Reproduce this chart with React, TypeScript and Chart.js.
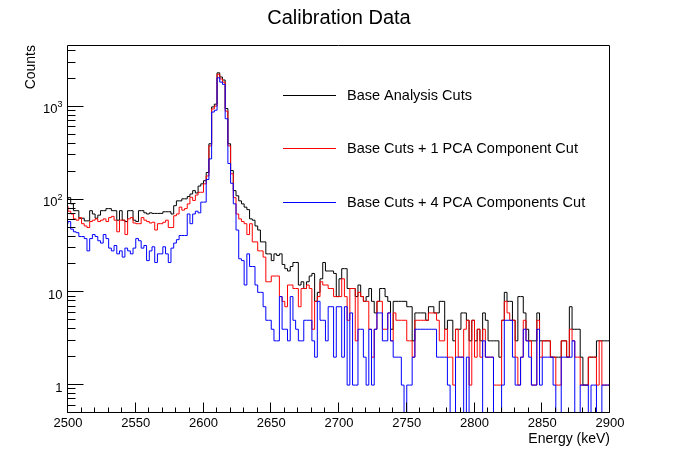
import React, { useEffect, useRef } from 'react';
import { Chart, Plugin, registerables } from 'chart.js';

Chart.register(...registerables);

// histogram binning (keV)
const binStart = 2500;
const binWidth = 2;

// counts per 2 keV bin, 2500 -> 2900 keV
const baseCuts = [
  100, 105, 90, 76, 76, 63, 63, 59, 59, 76,
  70, 63, 68, 76, 76, 80, 80, 76, 76, 60,
  76, 60, 58, 76, 76, 60, 58, 76, 76, 72,
  70, 72, 71, 71, 71, 71, 74, 74, 74, 70,
  86, 97, 97, 102, 102, 108, 115, 125, 118, 140,
  148, 160, 196, 400, 1000, 1070, 2330, 2100, 1950, 960,
  400, 206, 125, 110, 97, 90, 83, 78, 62, 60,
  52, 47, 35, 35, 26, 26, 22, 26, 25, 26,
  20, 18, 17, 19, 21, 21, 12, 13, 11, 13,
  15, 16, 8, 10, 14, 21, 17, 17, 17, 16,
  9, 14, 18, 18, 11, 11, 11, 9, 12, 9,
  8, 9, 11, 8, 6, 8, 11, 11, 9, 8,
  4, 8, 8, 8, 8, 8, 7, 7, 3, 6,
  6, 6, 6, 5, 7, 7, 6, 6, 8, 8,
  4, 5, 5, 3, 4, 4, 6, 6, 5, 3,
  5, 3, 4, 3, 6, 5, 3, 3, 3, 3,
  2, 5, 10, 8, 8, 5, 3, 9, 9, 6,
  4, 3, 3, 3, 6, 3, 3, 3, 3, 2,
  2, 2, 2, 3, 3, 2, 7, 4, 4, 4,
  2, 1, 1, 2, 2, 2, 3, 3, 3, 3,
];

const onePcaCut = [
  85, 75, 70, 62, 60, 64, 55, 52, 50, 58,
  60, 62, 58, 60, 62, 58, 64, 66, 60, 45,
  60, 60, 42, 62, 64, 56, 55, 55, 64, 60,
  58, 56, 57, 47, 55, 55, 57, 60, 50, 50,
  67, 70, 83, 77, 80, 90, 106, 98, 112, 120,
  120, 148, 180, 380, 950, 1020, 2250, 2000, 1850, 900,
  380, 190, 105, 70, 62, 58, 55, 42, 55, 35,
  35, 28, 28, 24, 13, 13, 15, 15, 15, 9,
  8, 7, 12, 12, 11, 11, 7, 11, 11, 12,
  11, 4, 8, 9, 13, 12, 12, 11, 11, 9,
  9, 9, 14, 9, 5, 11, 11, 3, 10, 9,
  8, 8, 4, 2, 4, 8, 8, 4, 4, 6,
  3, 6, 5, 5, 5, 5, 3, 3, 2, 5,
  5, 5, 5, 5, 6, 6, 6, 5, 3, 3,
  4, 2, 2, 1, 4, 2, 2, 4, 5, 1,
  5, 2, 4, 2, 4, 2, 2, 2, 1, 1,
  1, 5, 8, 6, 5, 5, 2, 1, 2, 5,
  3, 3, 1, 1, 5, 2, 3, 3, 3, 2,
  2, 1, 1, 3, 3, 2, 4, 3, 2, 2,
  1, 1, 1, 2, 2, 2, 1, 3, 1, 1,
];

const fourPcaCut = [
  55, 58, 48, 45, 44, 40, 40, 38, 28, 38,
  42, 40, 36, 34, 42, 38, 30, 28, 32, 26,
  28, 24, 30, 28, 26, 30, 38, 36, 30, 32,
  22, 28, 31, 21, 26, 26, 31, 26, 21, 30,
  34, 37, 41, 41, 41, 70, 55, 70, 75, 72,
  94, 94, 165, 275, 880, 920, 2060, 1850, 1750, 745,
  245, 150, 90, 47, 23, 22, 12, 26, 19, 19,
  12, 10, 10, 7, 5, 5, 4, 3, 3, 9,
  4, 4, 3, 9, 5, 4, 3, 3, 5, 5,
  5, 3, 2, 8, 5, 5, 3, 7, 7, 2,
  7, 7, 2, 7, 1, 6, 1, 1, 4, 4,
  2, 1, 4, 1, 4, 6, 6, 3, 3, 6,
  3, 2, 2, 2, 1, 0, 1, 1, 2, 4,
  4, 4, 4, 4, 4, 4, 4, 2, 2, 2,
  2, 1, 0, 0, 2, 2, 2, 0, 2, 0,
  0, 0, 0, 0, 3, 2, 2, 2, 0, 0,
  0, 1, 5, 5, 5, 2, 1, 1, 2, 4,
  3, 2, 1, 1, 4, 1, 2, 2, 2, 2,
  1, 0, 0, 2, 2, 2, 2, 3, 0, 0,
  1, 1, 1, 0, 1, 1, 0, 0, 1, 1,
];

const seriesLabels = [
  'Base Analysis Cuts',
  'Base Cuts + 1 PCA Component Cut',
  'Base Cuts + 4 PCA Components Cut',
];
const seriesColors = ['#000000', '#ff0000', '#0000ff'];

const xMin = 2500;
const xMax = 2900;
const xMajorTicks = [2500, 2550, 2600, 2650, 2700, 2750, 2800, 2850, 2900];
const xMinorStep = 10;

const yMin = 0.5;
const yMax = 4650;
// [mantissa, exponent] for the log axis labels
const yTickLabels: [number, string, string][] = [
  [1, '1', ''],
  [10, '10', ''],
  [100, '10', '2'],
  [1000, '10', '3'],
];

const FONT = '"Liberation Sans", Arial, Helvetica, sans-serif';

// empty bins are pushed below the axis, ROOT draws them to the bottom edge
function toSteps(values: number[]) {
  const pts = values.map((v, i) => ({ x: binStart + i * binWidth, y: v > 0 ? v : yMin / 10 }));
  const last = values[values.length - 1];
  pts.push({ x: binStart + values.length * binWidth, y: last > 0 ? last : yMin / 10 });
  return pts;
}

const rootFrame: Plugin = {
  id: 'rootFrame',
  afterDraw(chart) {
    const { ctx, chartArea: a } = chart;
    const xs = chart.scales.x;
    const ys = chart.scales.y;
    const L = Math.round(a.left) - 0.5;
    const R = Math.round(a.right) - 0.5;
    const T = Math.round(a.top) + 0.5;
    const B = Math.round(a.bottom) - 0.5;

    ctx.save();
    ctx.strokeStyle = '#000';
    ctx.lineWidth = 1;
    ctx.beginPath();
    ctx.rect(L, T, R - L, B - T);
    ctx.stroke();

    // x ticks, inside the frame
    ctx.beginPath();
    for (let v = xMin; v <= xMax; v += xMinorStep) {
      const px = Math.round(xs.getPixelForValue(v)) - 0.5;
      const len = xMajorTicks.includes(v) ? 10 : 5;
      ctx.moveTo(px, B);
      ctx.lineTo(px, B - len);
    }
    // y ticks, log decades
    for (let d = 0.1; d <= 1000; d *= 10) {
      for (let m = 1; m <= 9; m++) {
        const v = Math.round(d * m * 1000) / 1000;
        if (v < yMin || v > yMax) continue;
        const py = Math.round(ys.getPixelForValue(v)) - 0.5;
        const len = m === 1 ? 16 : 8;
        ctx.moveTo(L, py);
        ctx.lineTo(L + len, py);
      }
    }
    ctx.stroke();

    ctx.fillStyle = '#000';
    // x labels
    ctx.font = `13px ${FONT}`;
    ctx.textAlign = 'center';
    ctx.textBaseline = 'alphabetic';
    xMajorTicks.forEach((v) => {
      ctx.fillText(String(v), xs.getPixelForValue(v), B + 14.5);
    });

    // y labels with superscripts
    const rightEdge = L - 5;
    yTickLabels.forEach(([v, base, exp]) => {
      const py = ys.getPixelForValue(v) + 6.5;
      ctx.textAlign = 'left';
      ctx.font = `9px ${FONT}`;
      const ew = exp ? ctx.measureText(exp).width : 0;
      ctx.font = `13px ${FONT}`;
      const bw = ctx.measureText(base).width;
      const x0 = rightEdge - bw - ew;
      ctx.fillText(base, x0, py);
      if (exp) {
        ctx.font = `9px ${FONT}`;
        ctx.fillText(exp, x0 + bw, py - 6);
      }
    });

    // title and axis titles
    ctx.font = `20px ${FONT}`;
    ctx.textAlign = 'center';
    ctx.fillText('Calibration Data', (a.left + a.right) / 2, 24);

    ctx.font = `14px ${FONT}`;
    ctx.textAlign = 'right';
    ctx.fillText('Energy (keV)', a.right, 443);

    ctx.save();
    ctx.translate(35, a.top);
    ctx.rotate(-Math.PI / 2);
    ctx.textAlign = 'right';
    ctx.fillText('Counts', 0, 0);
    ctx.restore();

    // legend, no border
    const legendY = [95, 148, 202];
    ctx.font = `14.5px ${FONT}`;
    ctx.textAlign = 'left';
    ctx.textBaseline = 'middle';
    seriesLabels.forEach((label, i) => {
      const y = legendY[i] + 0.5;
      ctx.strokeStyle = seriesColors[i];
      ctx.beginPath();
      ctx.moveTo(283, y);
      ctx.lineTo(336, y);
      ctx.stroke();
      ctx.fillStyle = '#000';
      ctx.fillText(label, 347, legendY[i] + 1);
    });

    ctx.restore();
  },
};

export default function App() {
  const canvasRef = useRef<HTMLCanvasElement>(null);
  const chartRef = useRef<Chart | null>(null);

  useEffect(() => {
    if (!canvasRef.current) return;

    const series = [baseCuts, onePcaCut, fourPcaCut];
    chartRef.current = new Chart(canvasRef.current, {
      type: 'line',
      data: {
        datasets: series.map((values, i) => ({
          label: seriesLabels[i],
          data: toSteps(values),
          borderColor: seriesColors[i],
          borderWidth: 1,
          pointRadius: 0,
          stepped: 'after' as const,
          fill: false,
          order: series.length - i,
        })),
      },
      options: {
        responsive: true,
        maintainAspectRatio: false,
        animation: false,
        layout: { padding: { left: 68, right: 68, top: 45, bottom: 46 } },
        plugins: {
          legend: { display: false },
          title: { display: false },
          tooltip: { enabled: false },
        },
        scales: {
          x: { type: 'linear', min: xMin, max: xMax, display: false },
          y: { type: 'logarithmic', min: yMin, max: yMax, display: false },
        },
      },
      plugins: [rootFrame],
    });

    return () => {
      chartRef.current?.destroy();
      chartRef.current = null;
    };
  }, []);

  return (
    <div style={{ position: 'absolute', left: 0, top: 0, width: 678, height: 459, background: '#fff' }}>
      <canvas ref={canvasRef} />
    </div>
  );
}
